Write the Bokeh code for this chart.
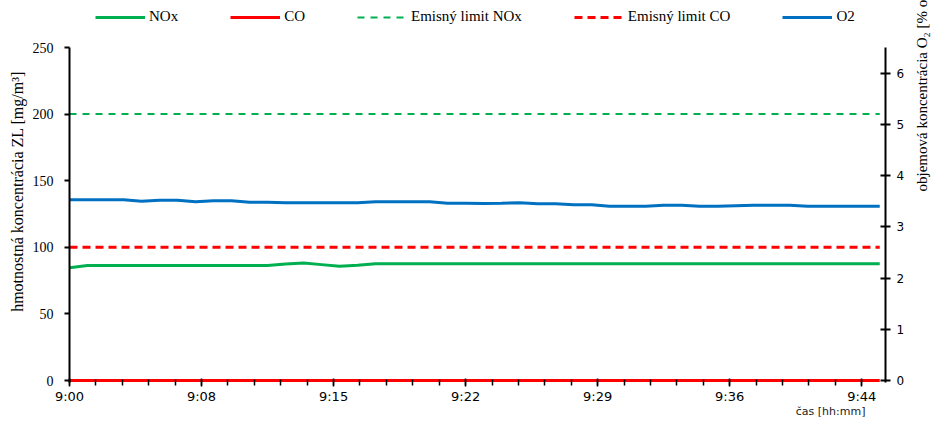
import math
from bokeh.plotting import figure
from bokeh.models import (Range1d, LinearAxis, FixedTicker, CustomJSTickFormatter,
                          Legend, LegendItem)
from bokeh.embed import file_html
from bokeh.resources import INLINE

# ---- data ----
minutes = list(range(46))  # minutes after 9:00
nox = [84.6] + [86.3] * 11 + [87.5, 88.2, 87.0, 85.8, 86.5] + [87.6] * 29
co = [0.0] * 46
nox_limit = [200.0] * 46
co_limit = [100.0] * 46
o2 = [3.53, 3.53, 3.53, 3.53, 3.50, 3.52, 3.52, 3.49, 3.51, 3.51,
      3.48, 3.48, 3.47, 3.47, 3.47, 3.47, 3.47, 3.49, 3.49, 3.49,
      3.49, 3.46, 3.46, 3.455, 3.46, 3.47, 3.45, 3.45, 3.43, 3.43,
      3.40, 3.40, 3.40, 3.42, 3.42, 3.40, 3.40, 3.41, 3.42, 3.42,
      3.42, 3.40, 3.40, 3.40, 3.40, 3.40]
time_labels = ["9:00", "9:08", "9:15", "9:22", "9:29", "9:36", "9:44"]
major_step = 44 / 6
major_ticks = [i * major_step for i in range(7)]
minor_ticks = [i * major_step / 5 for i in range(31)]
left_ticks = [0, 50, 100, 150, 200, 250]
right_ticks = [0, 1, 2, 3, 4, 5, 6]
LEFT_MAX, RIGHT_MAX = 250, 6.5

GREEN = "#00B050"
RED = "#FF0000"
BLUE = "#0070C0"
SERIF = "Liberation Serif"
SANS = "DejaVu Sans"

# frame spans from the figure top (legend lives inside the frame, above the axes' extent)
y_lo, y_hi = -1.5, 285.3
p = figure(width=941, height=421, output_backend="svg", toolbar_location=None,
           x_range=Range1d(0, 45.32), y_range=Range1d(y_lo, y_hi),
           min_border_left=69, min_border_right=54, min_border_top=0,
           min_border_bottom=39)
k = RIGHT_MAX / LEFT_MAX
p.extra_y_ranges = {"o2": Range1d(y_lo * k, y_hi * k)}
p.outline_line_color = None
p.xgrid.visible = False
p.ygrid.visible = False
p.background_fill_color = "white"
p.border_fill_color = "white"

r_nox_lim = p.line(minutes, nox_limit, line_color=GREEN, line_width=2, line_dash="7 6")
r_co_lim = p.line(minutes, co_limit, line_color=RED, line_width=3, line_dash="8 5")
r_nox = p.line(minutes, nox, line_color=GREEN, line_width=3)
r_o2 = p.line(minutes, o2, line_color=BLUE, line_width=3, y_range_name="o2")
r_co = p.line(minutes, co, line_color=RED, line_width=3)

# bottom axis
xa = p.xaxis[0]
xa.ticker = FixedTicker(ticks=major_ticks, minor_ticks=minor_ticks)
xa.formatter = CustomJSTickFormatter(args=dict(labels=time_labels, step=major_step),
                                     code="return labels[Math.round(tick / step)];")
xa.axis_line_color = None
xa.major_tick_in = 4
xa.major_tick_out = 4
xa.minor_tick_in = 3
xa.minor_tick_out = 3
xa.major_tick_line_width = 1.5
xa.minor_tick_line_width = 1.5
xa.major_tick_line_color = "black"
xa.minor_tick_line_color = "black"
xa.major_label_text_font = SANS
xa.major_label_text_font_size = "13px"
xa.major_label_text_color = "black"
xa.major_label_standoff = 2
# axis title sits at the bottom right: centred label pushed right by leading no-break spaces
xa.axis_label = "\u00a0" * 202 + "čas [hh:mm]"
xa.axis_label_text_font = SANS
xa.axis_label_text_font_size = "11px"
xa.axis_label_text_font_style = "normal"
xa.axis_label_text_color = "#222222"
xa.axis_label_standoff = -2

# left axis
ya = p.yaxis[0]
ya.ticker = FixedTicker(ticks=left_ticks, minor_ticks=[])
ya.bounds = (y_lo, LEFT_MAX)
ya.axis_line_width = 2
ya.axis_line_color = "black"
ya.major_tick_in = 0
ya.major_tick_out = 5
ya.major_tick_line_width = 2
ya.minor_tick_line_color = None
ya.major_label_text_font = SERIF
ya.major_label_text_font_size = "14px"
ya.major_label_text_color = "black"
ya.major_label_standoff = 11
ya.axis_label = "hmotnostná koncentrácia ZL [mg/m³]"
ya.axis_label_text_font = SERIF
ya.axis_label_text_font_size = "16px"
ya.axis_label_text_font_style = "normal"
ya.axis_label_text_color = "black"
ya.axis_label_standoff = 4

# right axis
ra = LinearAxis(y_range_name="o2", ticker=FixedTicker(ticks=right_ticks, minor_ticks=[]))
ra.bounds = (y_lo * k, RIGHT_MAX)
ra.axis_line_width = 2
ra.axis_line_color = "black"
ra.major_tick_in = 5
ra.major_tick_out = 5
ra.major_tick_line_width = 2
ra.minor_tick_line_color = None
ra.major_label_text_font = SANS
ra.major_label_text_font_size = "12px"
ra.major_label_text_color = "black"
ra.major_label_standoff = 6
ra.axis_label = "objemová koncentrácia O₂ [% obj.]"
ra.axis_label_text_font = SERIF
ra.axis_label_text_font_size = "15px"
ra.axis_label_text_font_style = "normal"
ra.axis_label_text_color = "black"
ra.axis_label_standoff = 15
if "axis_label_orientation" in ra.properties():
    ra.axis_label_orientation = math.pi / 2
p.add_layout(ra, "right")

legend = Legend(items=[
    LegendItem(label="NOx", renderers=[r_nox]),
    LegendItem(label="CO", renderers=[r_co]),
    LegendItem(label="Emisný limit NOx", renderers=[r_nox_lim]),
    LegendItem(label="Emisný limit CO", renderers=[r_co_lim]),
    LegendItem(label="O2", renderers=[r_o2]),
], orientation="horizontal", location=(26, 357))
legend.glyph_width = 50
legend.glyph_height = 16
legend.label_height = 16
legend.label_standoff = 4
legend.spacing = 52
legend.padding = 0
legend.margin = 0
legend.border_line_color = None
legend.background_fill_alpha = 0
legend.label_text_font = SERIF
legend.label_text_font_size = "15px"
legend.label_text_color = "black"
p.add_layout(legend, "center")

open("out.html", "w").write(file_html(p, INLINE))
